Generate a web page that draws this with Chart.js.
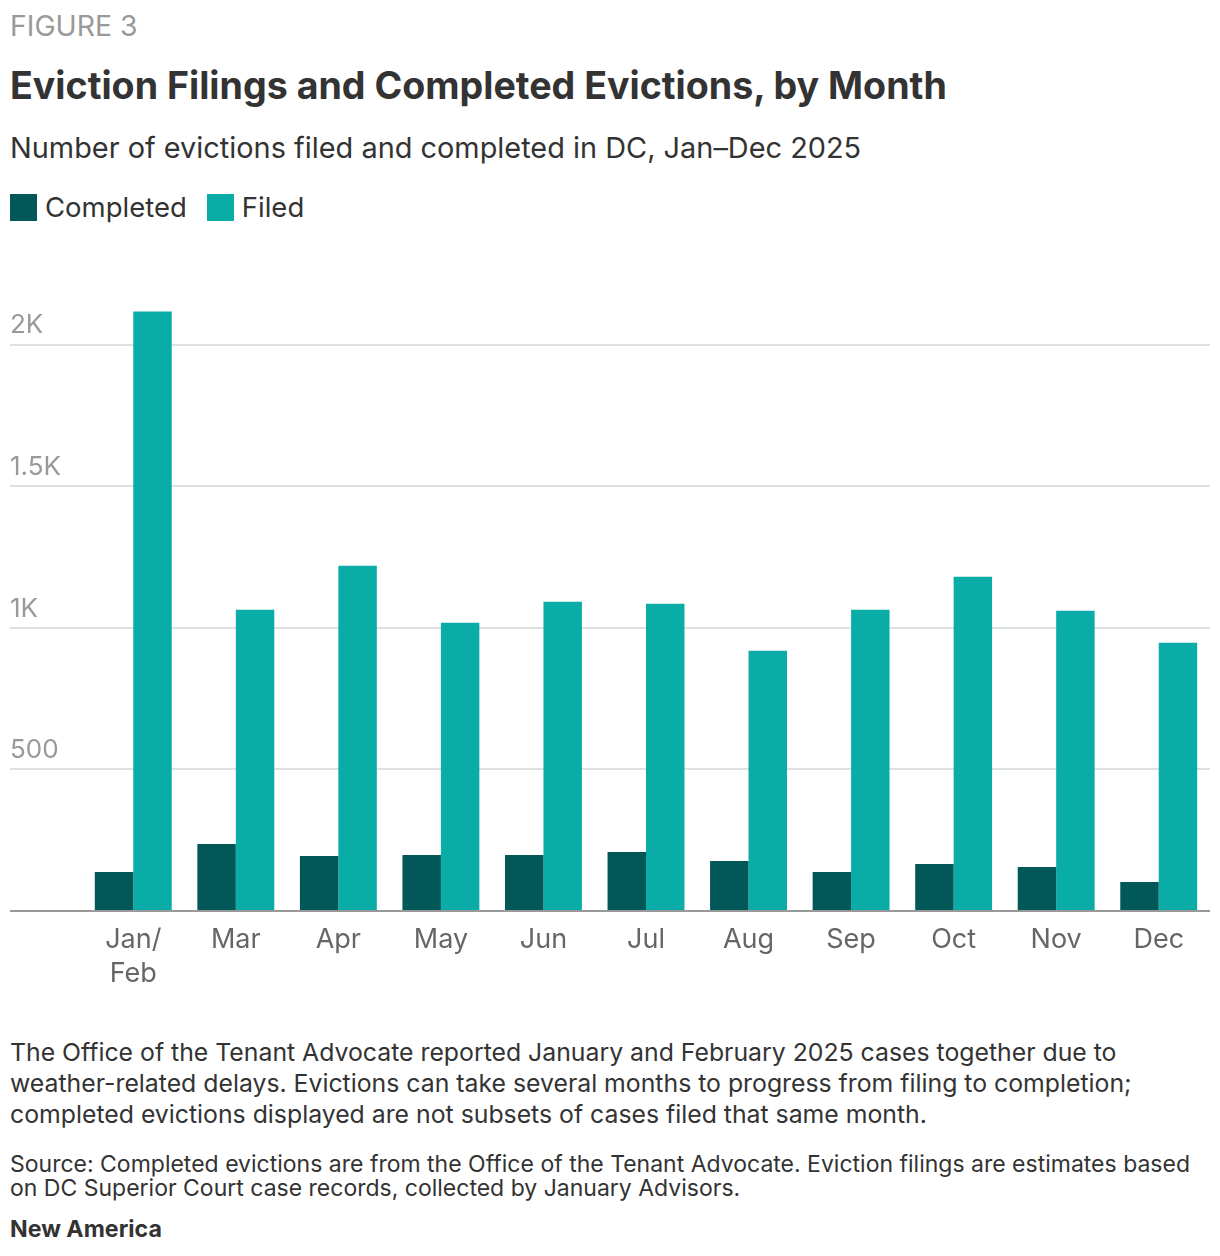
<!DOCTYPE html>
<html>
<head>
<meta charset="utf-8">
<script src="https://cdn.jsdelivr.net/npm/chart.js@4.4.1/dist/chart.umd.min.js"></script>
<style>
  body { margin: 0; background: #fff; font-family: Inter, "Noto Sans", sans-serif; color: #333; }
  #page { position: relative; width: 1220px; height: 1256px; overflow: hidden; }
  .txt { position: absolute; left: 10px; white-space: nowrap; }
  #fig { top: 10px; font-size: 28.4px; line-height: 32px; color: #999; }
  #title { top: 63px; font-size: 37.6px; line-height: 46px; font-weight: 700; color: #333; }
  #sub { top: 130px; font-size: 28.9px; line-height: 36px; color: #333; }
  #legend { top: 192px; font-size: 27.5px; line-height: 30px; color: #333; display: flex; align-items: center; }
  .sw { display: inline-block; width: 27px; height: 27px; margin-right: 8px; }
  .lg { display: flex; align-items: center; margin-right: 20px; }
  #chartBox { position: absolute; left: 0; top: 240px; width: 1220px; height: 760px; }
  #note { top: 1037px; font-size: 24.8px; line-height: 31px; color: #333; }
  #source { top: 1152px; font-size: 23px; line-height: 24px; color: #333; }
  #brand { top: 1215px; font-size: 23.2px; line-height: 28px; font-weight: 700; color: #333; }
</style>
</head>
<body>
<div id="page">
  <div class="txt" id="fig">FIGURE 3</div>
  <div class="txt" id="title">Eviction Filings and Completed Evictions, by Month</div>
  <div class="txt" id="sub">Number of evictions filed and completed in DC, Jan–Dec 2025</div>
  <div class="txt" id="legend">
    <span class="lg"><span class="sw" style="background:#025759"></span>Completed</span>
    <span class="lg"><span class="sw" style="background:#0AACA7"></span>Filed</span>
  </div>
  <div id="chartBox"><canvas id="chart"></canvas></div>
  <div class="txt" id="note">The Office of the Tenant Advocate reported January and February 2025 cases together due to<br>weather-related delays. Evictions can take several months to progress from filing to completion;<br>completed evictions displayed are not subsets of cases filed that same month.</div>
  <div class="txt" id="source">Source: Completed evictions are from the Office of the Tenant Advocate. Eviction filings are estimates based<br>on DC Superior Court case records, collected by January Advisors.</div>
  <div class="txt" id="brand">New America</div>
</div>
<script>
const months = [['Jan/', 'Feb'], 'Mar', 'Apr', 'May', 'Jun', 'Jul', 'Aug', 'Sep', 'Oct', 'Nov', 'Dec'];
const completed = [138, 237, 194, 198, 198, 208, 177, 138, 166, 155, 102];
const filed = [2117, 1064, 1219, 1018, 1092, 1085, 919, 1064, 1180, 1060, 947];
const yTicks = [0, 500, 1000, 1500, 2000];
const yTickLabels = ['', '500', '1K', '1.5K', '2K'];

const darkTeal = '#025759';
const teal = '#0AACA7';
const gridGray = '#dde1e0';
const axisGray = '#999';

// baseline at 0 is darker and runs out under the tick labels too
function lineColor(c) {
    const v = c.tick ? c.tick.value : -1;
    return v === 0 ? axisGray : gridGray;
}

const ctx = document.getElementById('chart');
const evictionChart = new Chart(ctx, {
    type: 'bar',
    data: {
        labels: months,
        datasets: [
            { label: 'Completed', data: completed, backgroundColor: darkTeal },
            { label: 'Filed', data: filed, backgroundColor: teal }
        ]
    },
    options: {
        responsive: true,
        maintainAspectRatio: false,
        animation: false,
        categoryPercentage: 0.75,
        barPercentage: 1.0,
        layout: { padding: { left: 10, right: 10, top: 48, bottom: 0 } },
        plugins: { legend: { display: false }, tooltip: { enabled: false } },
        scales: {
            x: {
                grid: { display: false },
                border: { display: false },
                ticks: {
                    color: '#666',
                    font: { family: 'Inter', size: 27, lineHeight: 1.25 },
                    padding: 4,
                    maxRotation: 0,
                    autoSkip: false
                },
                afterFit: function (scale) { scale.height = 89; }
            },
            y: {
                min: 0,
                max: 2200,
                border: { display: false },
                grid: {
                    color: lineColor,
                    tickColor: lineColor,
                    lineWidth: 2,
                    drawTicks: true,
                    tickLength: 72
                },
                ticks: {
                    autoSkip: false,
                    color: '#999',
                    font: { family: 'Inter', size: 26 },
                    crossAlign: 'far',
                    labelOffset: -19,
                    padding: 0,
                    callback: function (v) {
                        const i = yTicks.indexOf(v);
                        return i < 0 ? '' : yTickLabels[i];
                    }
                },
                afterBuildTicks: function (scale) {
                    scale.ticks = yTicks.map(function (v) { return { value: v }; });
                },
                afterFit: function (scale) { scale.width = 72; }
            }
        }
    }
});
</script>
</body>
</html>
